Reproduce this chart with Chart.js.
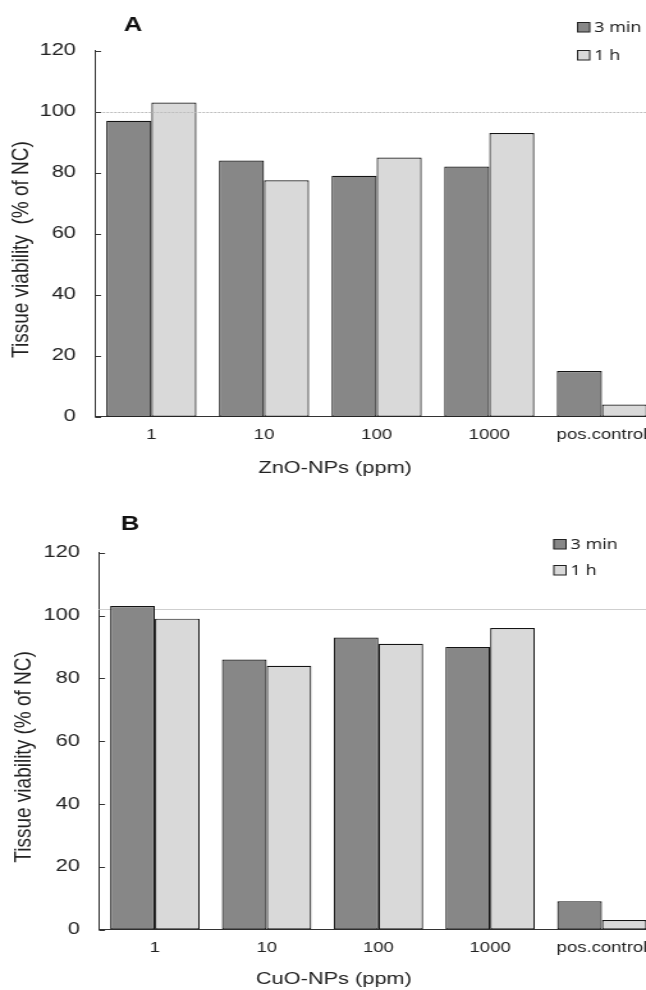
<!DOCTYPE html>
<html>
<head>
<meta charset="utf-8">
<script src="https://cdn.jsdelivr.net/npm/chart.js@4.4.1/dist/chart.umd.min.js"></script>
<style>
  html, body { margin: 0; padding: 0; background: #fff; overflow: hidden; }
  /* the original figure is stretched sideways, so the panels are too */
  .panel { width: 505px; height: 495px; overflow: hidden; transform: scaleX(1.2792); transform-origin: 0 0; }
  canvas { display: block; }
</style>
</head>
<body>
<div class="panel"><canvas id="chartA" width="516" height="495"></canvas></div>
<div class="panel"><canvas id="chartB" width="516" height="495"></canvas></div>
<script>
const categories = ['1', '10', '100', '1000', 'pos.control'];
const seriesLabels = ['3 min', '1 h'];
const znoThreeMin = [97, 84, 79, 82, 15];
const znoOneHour = [103, 77.5, 85, 93, 4];
const cuoThreeMin = [103, 86, 93, 90, 9];
const cuoOneHour = [99, 84, 91, 96, 3];

Chart.defaults.font.family = '"Liberation Sans", Arial, sans-serif';
Chart.defaults.color = '#222';

function drawRefLine(chart, o) {
  const ctx = chart.ctx;
  const area = chart.chartArea;
  const py = Math.round(chart.scales.y.getPixelForValue(o.refValue)) + 0.5;
  ctx.save();
  ctx.strokeStyle = o.refColor;
  ctx.lineWidth = 1;
  ctx.setLineDash(o.refDash);
  ctx.beginPath();
  ctx.moveTo(area.left, py);
  ctx.lineTo(area.right, py);
  ctx.stroke();
  ctx.restore();
}

const panelDecor = {
  id: 'panelDecor',
  beforeDatasetsDraw(chart, args, o) {
    if (!o.refOnTop) drawRefLine(chart, o);
  },
  afterDatasetsDraw(chart, args, o) {
    if (o.refOnTop) drawRefLine(chart, o);
  },
  afterDraw(chart, args, o) {
    const ctx = chart.ctx;
    const y = chart.scales.y;
    ctx.save();

    // tick marks point into the plot
    ctx.strokeStyle = '#333';
    ctx.lineWidth = 1;
    y.ticks.forEach(t => {
      const py = Math.round(y.getPixelForValue(t.value)) + 0.5;
      ctx.beginPath();
      ctx.moveTo(y.right, py);
      ctx.lineTo(y.right + 4.7, py);
      ctx.stroke();
    });

    ctx.textAlign = 'center';
    ctx.textBaseline = 'middle';
    ctx.fillStyle = '#111';
    ctx.font = 'bold 20px "Liberation Sans", Arial, sans-serif';
    ctx.fillText(o.letter, o.letterX, o.letterY);

    ctx.fillStyle = '#222';
    ctx.font = '17px "Liberation Sans", Arial, sans-serif';
    ctx.fillText(o.xTitle, o.xTitleX, o.xTitleY);

    // legend
    ctx.textAlign = 'left';
    ctx.font = '14px "Noto Sans", sans-serif';
    chart.data.datasets.forEach((ds, i) => {
      const cy = Math.round(o.legendY + i * o.legendGap);
      ctx.fillStyle = ds.backgroundColor;
      ctx.fillRect(o.legendX, cy - 5, 10, 10);
      ctx.strokeStyle = '#222';
      ctx.strokeRect(o.legendX + 0.5, cy - 4.5, 9.5, 9.5);
      ctx.fillStyle = '#222';
      ctx.fillText(ds.label, o.legendX + 13.5, cy + 1);
    });
    ctx.restore();
  }
};

function makeChart(id, threeMin, oneHour, s) {
  new Chart(document.getElementById(id), {
    type: 'bar',
    data: {
      labels: categories,
      datasets: [{
        label: seriesLabels[0],
        data: threeMin,
        backgroundColor: '#878787',
        borderColor: '#141414',
        borderWidth: 1.2,
        borderSkipped: false
      }, {
        label: seriesLabels[1],
        data: oneHour,
        backgroundColor: '#d9d9d9',
        borderColor: '#141414',
        borderWidth: 1.2,
        borderSkipped: false
      }]
    },
    options: {
      responsive: false,
      animation: false,
      categoryPercentage: 0.8,
      barPercentage: 1.0,
      layout: { padding: { top: s.top, left: 0, right: 0, bottom: 0 } },
      plugins: {
        legend: { display: false },
        tooltip: { enabled: false },
        panelDecor: s.decor
      },
      scales: {
        x: {
          grid: { display: false, drawTicks: false },
          border: { display: true, color: '#333', width: 1 },
          ticks: { padding: 10, font: { size: 14.5 }, color: '#222' },
          afterFit(scale) { scale.height = s.xHeight; }
        },
        y: {
          min: 0,
          max: 120,
          grid: { display: false, drawTicks: false },
          border: { display: true, color: '#333', width: 1 },
          ticks: { stepSize: 20, padding: 15, font: { size: 17 }, color: '#222' },
          title: {
            display: true,
            text: s.yTitle,
            font: { size: 19 },
            color: '#222',
            padding: { top: s.yTitlePad, bottom: 0 }
          },
          afterFit(scale) { scale.width = s.yWidth; }
        }
      }
    },
    plugins: [panelDecor]
  });
}

// trailing spaces push the rotated title a little lower, as in the figure
makeChart('chartA', znoThreeMin, znoOneHour, {
  top: 50.7, xHeight: 78.3, yWidth: 74.3, yTitlePad: 5.8,
  yTitle: 'Tissue viability  (% of NC)\u00a0\u00a0\u00a0\u00a0\u00a0\u00a0',
  decor: {
    letter: 'A', letterX: 104, letterY: 25,
    xTitle: 'ZnO-NPs (ppm)', xTitleX: 262, xTitleY: 468,
    legendX: 451, legendY: 27, legendGap: 28,
    refValue: 100, refColor: '#bdbdbd', refDash: [2, 1], refOnTop: true
  }
});

makeChart('chartB', cuoThreeMin, cuoOneHour, {
  top: 57.7, xHeight: 60.5, yWidth: 77.4, yTitlePad: 7.4,
  yTitle: 'Tissue viability (% of NC)\u00a0\u00a0\u00a0\u00a0\u00a0\u00a0',
  decor: {
    letter: 'B', letterX: 101.6, letterY: 29,
    xTitle: 'CuO-NPs (ppm)', xTitleX: 261, xTitleY: 484,
    legendX: 432.5, legendY: 49, legendGap: 26,
    refValue: 102, refColor: '#cfcfcf', refDash: [], refOnTop: false
  }
});
</script>
</body>
</html>
